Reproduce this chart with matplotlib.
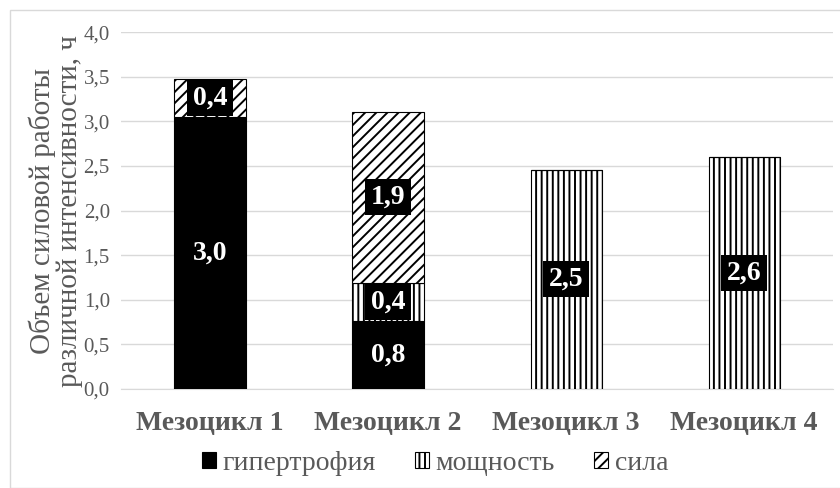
import matplotlib.pyplot as plt
from matplotlib.patches import Rectangle
import numpy as np

# Data: volume of strength work by intensity, hours
cycles = ["Мезоцикл 1", "Мезоцикл 2", "Мезоцикл 3", "Мезоцикл 4"]
hypertrophy = [3.05, 0.76, 0.0, 0.0]
power = [0.0, 0.43, 2.46, 2.60]
strength = [0.43, 1.92, 0.0, 0.0]
series_names = ["гипертрофия", "мощность", "сила"]

plt.rcParams['font.family'] = ['Liberation Serif', 'DejaVu Serif']
plt.rcParams['hatch.linewidth'] = 1.4
gray = '#595959'

fig = plt.figure(figsize=(8.4, 4.88), dpi=100)
ax = fig.add_axes([0.144, 0.203, 0.848, 0.731])

# light frame around the chart area
fig.patches.append(Rectangle((10 / 840, 0), 1, 1 - 10 / 488, transform=fig.transFigure,
                             fill=False, edgecolor='#d9d9d9', linewidth=1))

x = np.arange(len(cycles))
width = 0.4
hyp = np.array(hypertrophy)
pw = np.array(power)
st = np.array(strength)

ax.bar(x, hyp, width, color='black', edgecolor='black', linewidth=0.8,
       label=series_names[0], zorder=3)
ax.bar(x, pw, width, bottom=hyp, color='white', edgecolor='black', hatch='|||',
       linewidth=0.8, label=series_names[1], zorder=3)
ax.bar(x, st, width, bottom=hyp + pw, color='white', edgecolor='black', hatch='///',
       linewidth=0.8, label=series_names[2], zorder=3)

# value labels on every non-empty segment
for vals, base in [(hyp, 0), (pw, hyp), (st, hyp + pw)]:
    base = np.zeros(len(x)) + base
    for i, v in enumerate(vals):
        if v <= 0:
            continue
        ax.text(x[i], base[i] + v / 2, f"{v:.1f}".replace('.', ','),
                ha='center', va='center', color='white', fontsize=20,
                fontweight='bold', zorder=5,
                bbox=dict(boxstyle='square,pad=0.2', facecolor='black',
                          edgecolor='none'))

ax.set_ylim(0, 4.0)
ax.set_xlim(-0.5, len(cycles) - 0.5)
ticks = np.arange(0, 4.01, 0.5)
ax.set_yticks(ticks)
ax.set_yticklabels([f"{t:.1f}".replace('.', ',') for t in ticks])
ax.yaxis.grid(True, color='#d9d9d9', linewidth=1, zorder=0)
ax.set_axisbelow(True)
for s in ['top', 'right', 'left']:
    ax.spines[s].set_visible(False)
ax.spines['bottom'].set_color('#d9d9d9')
ax.tick_params(axis='y', length=0, labelsize=15, labelcolor=gray, pad=8)
ax.tick_params(axis='x', length=0, pad=16)
ax.set_xticks(x)
ax.set_xticklabels(cycles, fontsize=20, fontweight='bold', color=gray)

ax.set_ylabel("Объем силовой работы\nразличной интенсивности, ч",
              fontsize=21, color=gray, linespacing=1.05, labelpad=0)

fig.legend(*ax.get_legend_handles_labels(), loc='center',
           bbox_to_anchor=(0.518, 0.051), ncol=3, frameon=False,
           fontsize=20, labelcolor=gray, handlelength=0.5, handleheight=0.5,
           handletextpad=0.25, columnspacing=1.4)

plt.savefig('out.png', dpi=100)
